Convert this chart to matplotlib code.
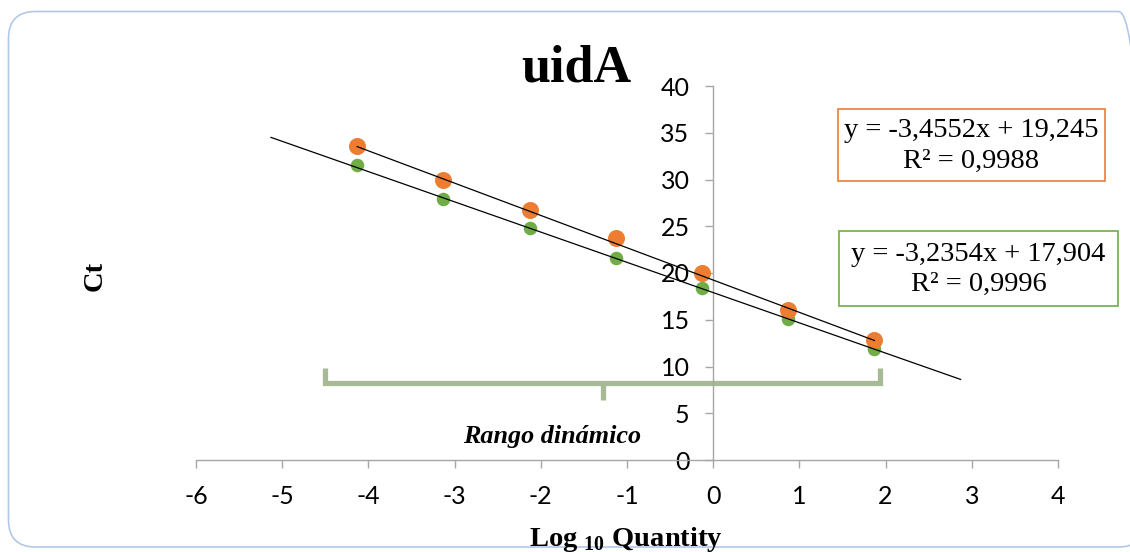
import matplotlib
matplotlib.use("Agg")
import matplotlib.pyplot as plt
from matplotlib.patches import FancyBboxPatch, Rectangle
from matplotlib.transforms import IdentityTransform
import numpy as np

plt.rcParams['axes.unicode_minus'] = False
plt.rcParams['mathtext.fontset'] = 'custom'
plt.rcParams['mathtext.bf'] = 'Liberation Serif:bold'
plt.rcParams['mathtext.rm'] = 'Liberation Serif'

# standard curve data (log10 quantity vs Ct)
log_qty = [-4.13, -3.13, -2.13, -1.13, -0.13, 0.87, 1.87]
ct_orange = [33.6, 29.9, 26.7, 23.7, 20.0, 16.0, 12.8]
ct_green = [31.6, 27.9, 24.8, 21.6, 18.4, 15.1, 11.9]

# linear fits: slope, intercept, R^2
fit_orange = [-3.4552, 19.245, 0.9988]
fit_green = [-3.2354, 17.904, 0.9996]

x_ticks = [-6, -5, -4, -3, -2, -1, 0, 1, 2, 3, 4]
y_ticks = [0, 5, 10, 15, 20, 25, 30, 35, 40]

c_orange = '#ed7d31'
c_green = '#70ad47'
c_range = '#a8b996'

W, H = 1130, 552
fig = plt.figure(figsize=(W / 100, H / 100), dpi=100)
ax = fig.add_axes([196 / W, (H - 460) / H, 862 / W, 374 / H])

# rounded frame around the chart (runs past the right edge)
frame = FancyBboxPatch((8.5, 5), 1137, 535.5, boxstyle="round,pad=0,rounding_size=27",
                       transform=IdentityTransform(), fill=False, ec='#b4c7e7', lw=1.2)
fig.add_artist(frame)

ax.scatter(log_qty, ct_green, s=95, color=c_green, zorder=3, linewidths=0)
ax.scatter(log_qty, ct_orange, s=150, color=c_orange, zorder=3, linewidths=0)

# trend lines: orange over the data span, green extended by one unit each side
xo = np.array([min(log_qty), max(log_qty)])
ax.plot(xo, fit_orange[0] * xo + fit_orange[1], color='black', lw=0.9, zorder=4)
xg = np.array([min(log_qty) - 1, max(log_qty) + 1])
ax.plot(xg, fit_green[0] * xg + fit_green[1], color='black', lw=0.9, zorder=4)

# dynamic range bracket
ax.plot([-4.5, -4.5, 1.93, 1.93], [9.8, 8.2, 8.2, 9.8], color=c_range, lw=3.8,
        solid_joinstyle='miter', solid_capstyle='butt', zorder=2)
ax.plot([-1.28, -1.28], [8.2, 6.4], color=c_range, lw=3.8, solid_capstyle='butt', zorder=2)
ax.text(-1.87, 2.5, 'Rango dinámico', ha='center', va='center', fontsize=18.8,
        family='Liberation Serif', weight='bold', style='italic')

ax.set_xlim(-6, 4)
ax.set_ylim(0, 40)
for s in ['top', 'right']:
    ax.spines[s].set_visible(False)
ax.spines['left'].set_position(('data', 0))
ax.spines['bottom'].set_position(('data', 0))
for s in ['left', 'bottom']:
    ax.spines[s].set_color('#a6a6a6')
    ax.spines[s].set_linewidth(1)
ax.set_xticks(x_ticks)
ax.set_xticklabels([str(v) for v in x_ticks])
ax.set_yticks(y_ticks)
ax.set_yticklabels([str(v) for v in y_ticks])
ax.tick_params(axis='x', direction='out', length=6, width=1, color='#a6a6a6', pad=12,
               labelsize=18)
ax.tick_params(axis='y', direction='out', length=6, width=1, color='#a6a6a6', pad=11,
               labelsize=18)
for lab in ax.get_xticklabels() + ax.get_yticklabels():
    lab.set_family('Lato')
ax.patch.set_visible(False)

fig.text(576 / W, (H - 82) / H, 'uidA', ha='center', va='baseline', fontsize=37.5,
         family='Liberation Serif', weight='bold')
fig.text(95 / W, (H - 276) / H, 'Ct', ha='center', va='center', rotation=90, fontsize=20.5,
         family='Liberation Serif', weight='bold')
fig.text(626 / W, (H - 546) / H, r'Log $_{\mathbf{10}}$ Quantity', ha='center',
         va='baseline', fontsize=20.5, family='Liberation Serif', weight='bold')

# equation boxes
def eq_box(x0, y0, x1, y1, color, fit):
    fig.add_artist(Rectangle((x0 / W, (H - y1) / H), (x1 - x0) / W, (y1 - y0) / H,
                             transform=fig.transFigure, fill=True, fc='white', ec=color,
                             lw=1.2, zorder=5))
    txt = 'y = {}x + {}\nR² = {}'.format(str(fit[0]).replace('.', ','),
                                         str(fit[1]).replace('.', ','),
                                         str(fit[2]).replace('.', ','))
    fig.text((x0 + x1) / 2 / W, (H - (y0 + y1) / 2 - 1) / H, txt, ha='center', va='center',
             multialignment='center', fontsize=20.5, family='Liberation Serif',
             linespacing=1.3, zorder=6)

eq_box(838, 109, 1105, 181, c_orange, fit_orange)
eq_box(839, 231, 1118, 306, c_green, fit_green)

fig.savefig('out.png', dpi=100)
